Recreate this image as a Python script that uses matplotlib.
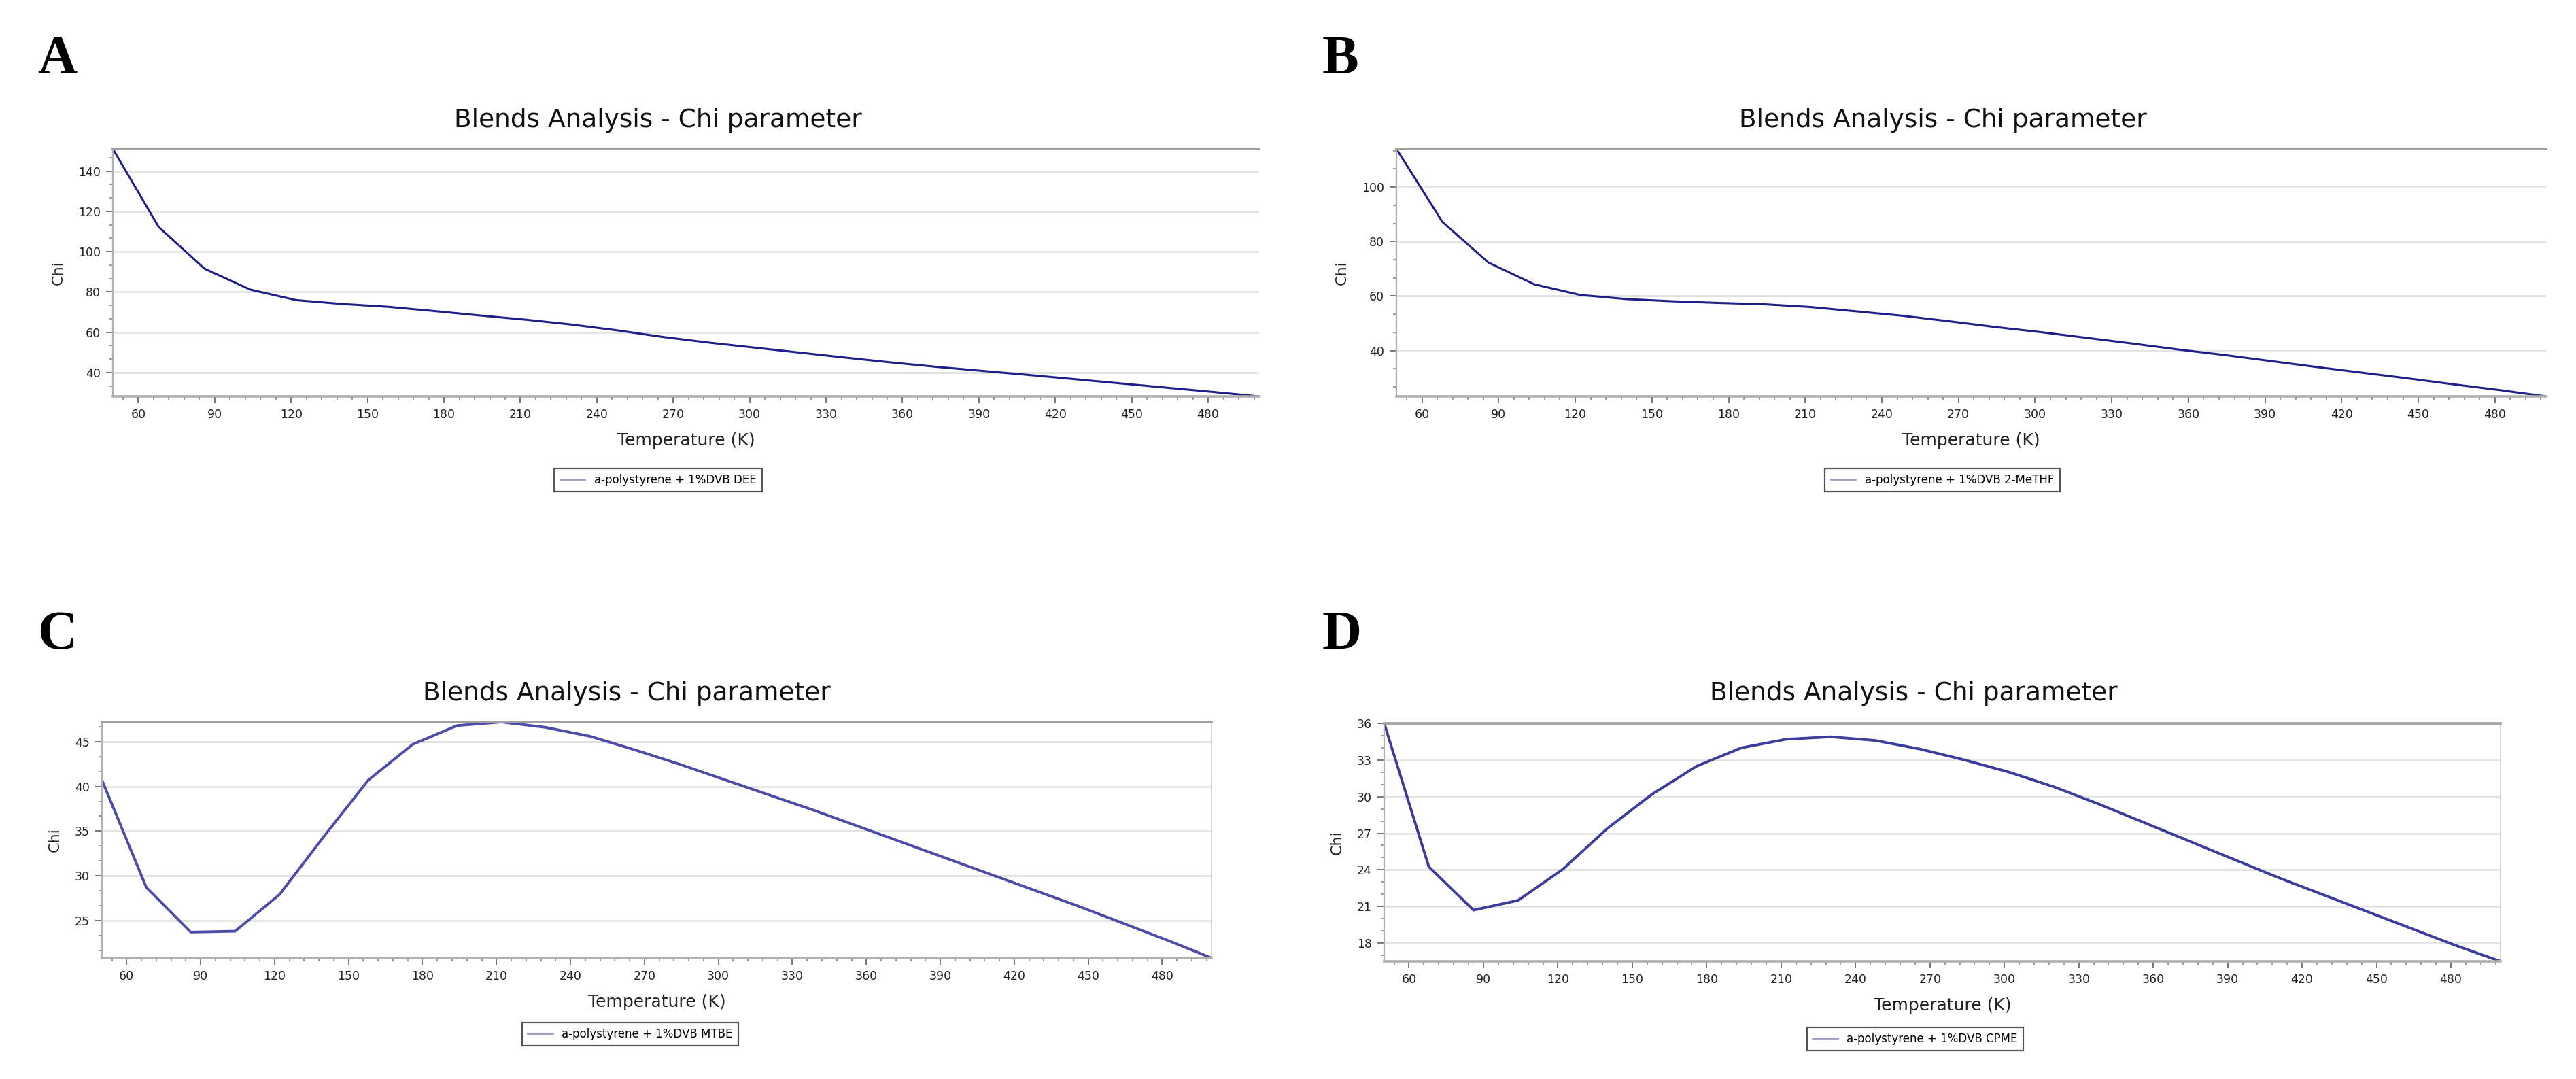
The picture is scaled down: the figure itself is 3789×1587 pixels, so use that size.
import matplotlib.pyplot as plt
from matplotlib.ticker import MultipleLocator

# temperature grid shared by all four blends (K)
temps = [50, 68, 86, 104, 122, 140, 158, 176, 194, 212, 230, 248, 266,
         284, 302, 320, 338, 356, 374, 392, 410, 428, 446, 464, 482, 500]

chi_dee = [151.0, 112.2, 91.5, 81.1, 75.9, 74.0, 72.6, 70.5, 68.3, 66.2,
           63.8, 60.9, 57.6, 54.8, 52.3, 49.8, 47.3, 44.9, 42.7, 40.7,
           38.7, 36.6, 34.5, 32.4, 30.3, 28.1]
chi_methf = [114.0, 87.2, 72.3, 64.3, 60.4, 58.9, 58.1, 57.5, 57.0, 56.0,
             54.4, 52.8, 50.8, 48.7, 46.8, 44.7, 42.6, 40.4, 38.4, 36.2,
             34.0, 31.9, 29.8, 27.6, 25.5, 23.2]
chi_mtbe = [40.7, 28.7, 23.7, 23.8, 27.9, 34.4, 40.7, 44.7, 46.8, 47.2,
            46.6, 45.6, 44.1, 42.5, 40.8, 39.1, 37.4, 35.6, 33.8, 32.0,
            30.2, 28.4, 26.6, 24.7, 22.8, 20.8]
chi_cpme = [36.0, 24.25, 20.7, 21.5, 24.05, 27.4, 30.2, 32.5, 34.0, 34.7,
            34.9, 34.6, 33.9, 33.0, 32.0, 30.8, 29.4, 27.9, 26.4, 24.9,
            23.4, 22.0, 20.6, 19.2, 17.8, 16.5]

labels = ["a-polystyrene + 1%DVB DEE", "a-polystyrene + 1%DVB 2-MeTHF",
          "a-polystyrene + 1%DVB MTBE", "a-polystyrene + 1%DVB CPME"]
letters = ["A", "B", "C", "D"]
y_steps = [20, 20, 5, 3]

W, H = 3789, 1587
fig = plt.figure(figsize=(W / 100, H / 100), dpi=100)
fig.patch.set_facecolor("white")

# panel layout in pixels: axes (left, top, right, bottom), title x/baseline,
# legend centre, letter position
panels = [
    dict(ax=(166, 219, 1852, 583), title=(968, 187), leg=(968, 706), let=(55, 108),
         color="#1f1f8a", lw=2.2, rspine=False),
    dict(ax=(2054, 219, 3745, 583), title=(2858, 187), leg=(2857, 706), let=(1945, 108),
         color="#1f1f8a", lw=2.2, rspine=False),
    dict(ax=(150, 1062, 1782, 1409), title=(922, 1030), leg=(927, 1521), let=(55, 954),
         color="#4c4ca6", lw=2.8, rspine=True),
    dict(ax=(2036, 1064, 3678, 1414), title=(2815, 1030), leg=(2817, 1528), let=(1945, 954),
         color="#3c3c9c", lw=2.8, rspine=True),
]
series = [chi_dee, chi_methf, chi_mtbe, chi_cpme]

for p, chi, lab, letter, ystep in zip(panels, series, labels, letters, y_steps):
    l, t, r, b = p["ax"]
    ax = fig.add_axes([l / W, 1 - b / H, (r - l) / W, (b - t) / H])
    line, = ax.plot(temps, chi, color=p["color"], lw=p["lw"], label=lab,
                    solid_joinstyle="round")
    ax.margins(x=0, y=0)

    ax.xaxis.set_major_locator(MultipleLocator(30))
    ax.xaxis.set_minor_locator(MultipleLocator(6))
    ax.yaxis.set_major_locator(MultipleLocator(ystep))
    ax.yaxis.set_minor_locator(MultipleLocator(ystep / 3))
    ax.grid(axis="y", which="major", color="#e4e4e4", lw=2.2)
    ax.set_axisbelow(True)

    ax.tick_params(which="major", length=7, width=1.4, color="#777777",
                   labelsize=12.5, labelcolor="#222222", pad=6)
    ax.tick_params(which="minor", length=3.5, width=1.2, color="#888888")

    ax.spines["top"].set_color("#a0a0a0")
    ax.spines["top"].set_linewidth(2.6)
    ax.spines["bottom"].set_color("#b0b0b0")
    ax.spines["bottom"].set_linewidth(2.6)
    ax.spines["left"].set_color("#b0b0b0")
    ax.spines["left"].set_linewidth(1.6)
    if p["rspine"]:
        ax.spines["right"].set_color("#c8c8c8")
        ax.spines["right"].set_linewidth(1.2)
    else:
        ax.spines["right"].set_visible(False)

    ax.set_xlabel("Temperature (K)", fontsize=18, color="#222222", labelpad=12)
    ax.set_ylabel("Chi", fontsize=16, color="#222222", labelpad=14)

    fig.text(p["title"][0] / W, 1 - p["title"][1] / H,
             "Blends Analysis - Chi parameter", fontsize=27, color="#111111",
             ha="center", va="baseline")
    fig.text(p["let"][0] / W, 1 - p["let"][1] / H, letter, fontsize=58,
             fontweight="bold", family="Liberation Serif", ha="left", va="baseline")

    leg = ax.legend(loc="center", bbox_to_anchor=(p["leg"][0] / W, 1 - p["leg"][1] / H),
                    bbox_transform=fig.transFigure, fontsize=12, fancybox=False,
                    edgecolor="#555555", handlelength=2.2, borderpad=0.5,
                    framealpha=1)
    leg.get_frame().set_linewidth(1.6)
    leg.get_lines()[0].set_color("#9a9ac4")
    leg.get_lines()[0].set_linewidth(2.0)

fig.savefig("out.png", dpi=100, facecolor="white")
